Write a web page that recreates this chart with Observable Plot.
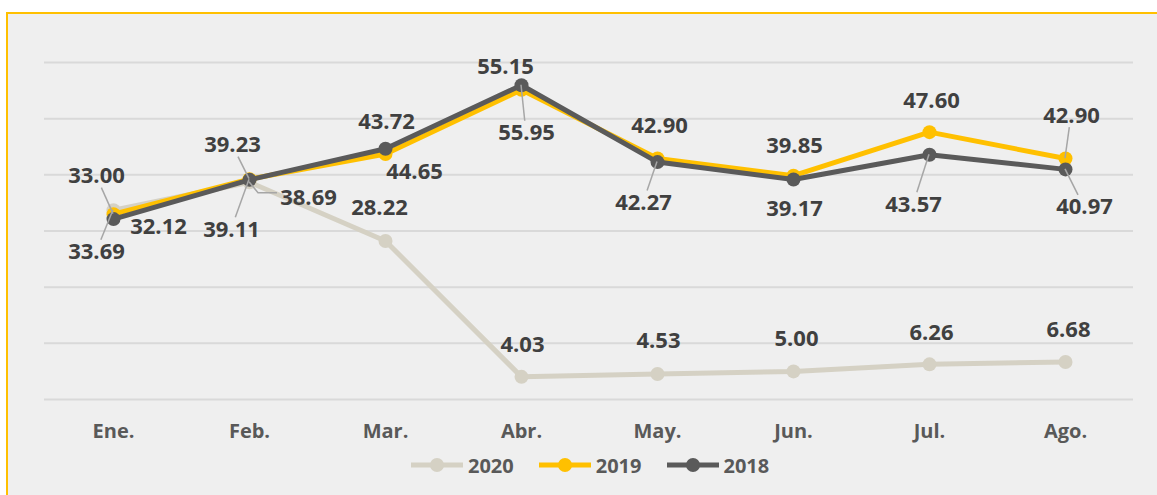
<!DOCTYPE html>
<html><head><meta charset="utf-8">
<script src="https://cdn.jsdelivr.net/npm/d3@7"></script>
<script src="https://cdn.jsdelivr.net/npm/@observablehq/plot@0.6"></script>
<style>
html,body{margin:0;padding:0;background:#fff;overflow:hidden;width:1157px;height:495px;font-family:"Open Sans",sans-serif;}
#frame{position:absolute;left:6px;top:12px;width:1170px;height:500px;border-left:2px solid #FFC000;border-top:2px solid #FFC000;background:#EFEFEF;}
#chart{position:absolute;left:0;top:0;}
#legend{position:absolute;left:411px;top:455px;height:20px;display:flex;align-items:center;font-weight:700;font-size:20px;color:#595959;}
.item{display:flex;align-items:center;margin-right:25px;}
.item svg{margin-right:5px;}
.chart g[aria-label^="x-axis"] text{font-weight:700;font-size:20px;fill:#595959;}
</style></head>
<body>
<div id="frame"></div>
<div id="chart"></div>
<div id="legend"></div>
<script>
// ---- data ----
const months = ["Ene.","Feb.","Mar.","Abr.","May.","Jun.","Jul.","Ago."];
const years = ["2020","2019","2018"];
const values2020 = [33.69,38.69,28.22,4.03,4.53,5.00,6.26,6.68];
const values2019 = [33.00,39.23,43.72,55.15,42.90,39.85,47.60,42.90];
const values2018 = [32.12,39.11,44.65,55.95,42.27,39.17,43.57,40.97];
const yTicks = [0,10,20,30,40,50,60];

// ---- styling / label layout (pixel offsets, leader type) ----
const colors = {"2020":"#D5D1C4","2019":"#FFC000","2018":"#5A5A5A"};
const labelLayout = {
  "2020": [[-17,42,1],[59,16,2],[-6,-33,0],[1,-32,0],[1,-33,0],[3,-32,0],[2,-31,0],[3,-32,0]],
  "2019": [[-17,-38,1],[-17,-34,1],[1,-32,0],[-16,-23,0],[2,-33,0],[1,-30,0],[2,-31,0],[6,-43,1]],
  "2018": [[45,8,0],[-18,50,1],[29,23,0],[5,48,1],[-14,41,1],[1,29,0],[-16,50,1],[19,38,1]]
};

const seriesValues = {"2020":values2020,"2019":values2019,"2018":values2018};
const rows = years.flatMap(yr => months.map((m,i)=>({year:yr, month:m, idx:i, value:seriesValues[yr][i]})));

const marks = [Plot.ruleY(yTicks,{stroke:"#D9D9D9",strokeWidth:2})];
for (const yr of years){
  const d = rows.filter(r=>r.year===yr);
  marks.push(Plot.line(d,{x:"month",y:"value",stroke:colors[yr],strokeWidth:5}));
  marks.push(Plot.dot(d,{x:"month",y:"value",r:7,fill:colors[yr]}));
}
for (const yr of years){
  rows.filter(r=>r.year===yr).forEach((r,i)=>{
    const [dx,dy] = labelLayout[yr][i];
    marks.push(Plot.text([r],{x:"month",y:"value",text:d=>d.value.toFixed(2),dx,dy,
      fontSize:22,fontWeight:700,fill:"#404040",textAnchor:"middle",lineAnchor:"middle"}));
  });
}

const plot = Plot.plot({
  width:1157, height:440,
  marginLeft:44, marginRight:24, marginTop:62, marginBottom:41,
  className:"chart",
  style:{background:"transparent",fontFamily:"'Open Sans', sans-serif",color:"#595959",overflow:"visible"},
  x:{type:"point",domain:months,padding:0.5,label:null,tickSize:0,tickPadding:24},
  y:{domain:[0,60],axis:null},
  marks
});
document.getElementById("chart").appendChild(plot);

// leader lines via the plot's own scales
const sx = plot.scale("x"), sy = plot.scale("y");
const fx = sx.apply ? (v=>sx.apply(v)) : d3.scalePoint(sx.domain, sx.range).padding(sx.padding ?? 0.5).align(sx.align ?? 0.5);
const fy = sy.apply ? (v=>sy.apply(v)) : d3.scaleLinear(sy.domain, sy.range);
const g = d3.select(plot).append("g").attr("stroke","#A6A6A6").attr("stroke-width",1.5).attr("fill","none");
for (const r of rows){
  const [dx,dy,type] = labelLayout[r.year][r.idx];
  if (!type) continue;
  const px = fx(r.month), py = fy(r.value);
  const lx = px+dx, ly = py+dy;
  if (type===1){
    const s = Math.min(31/Math.abs(dx||1e-6), 12/Math.abs(dy||1e-6));
    g.append("line").attr("x1",px).attr("y1",py).attr("x2",lx-s*dx).attr("y2",ly-s*dy);
  } else {
    g.append("path").attr("d",`M${px},${py}L${px+9},${ly-5}L${lx-31},${ly-5}`);
  }
}

// legend
const legend = d3.select("#legend");
for (const yr of years){
  const it = legend.append("div").attr("class","item");
  const s = it.append("svg").attr("width",52).attr("height",20);
  s.append("line").attr("x1",0).attr("x2",52).attr("y1",10).attr("y2",10).attr("stroke",colors[yr]).attr("stroke-width",5);
  s.append("circle").attr("cx",26).attr("cy",10).attr("r",7).attr("fill",colors[yr]);
  it.append("span").text(yr);
}
</script>
</body></html>
